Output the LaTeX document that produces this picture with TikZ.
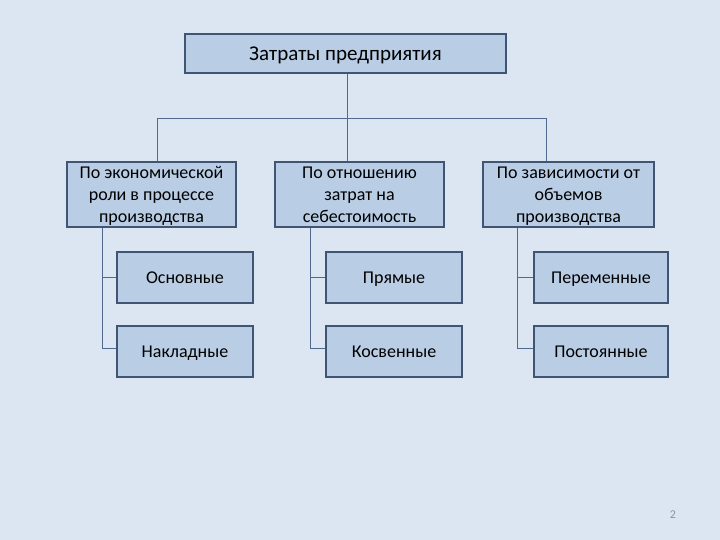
\documentclass[tikz,border=0pt]{standalone}
\usepackage{fontspec}
\setmainfont{Carlito}
\definecolor{bg}{HTML}{DCE6F2}
\definecolor{boxfill}{HTML}{B9CDE5}
\definecolor{boxdraw}{HTML}{3F5573}
\definecolor{linec}{HTML}{4F6A8C}
\definecolor{numc}{HTML}{8096B4}
\newcommand\mystrut{\rule[-0.25em]{0pt}{1.15em}}
\begin{document}
\begin{tikzpicture}[x=1pt,y=-1pt,
  box/.style={draw=boxdraw,fill=boxfill,line width=1.6pt,inner sep=0pt,align=center,font=\fontsize{18}{22}\selectfont},
  conn/.style={draw=linec,line width=0.8pt}]
\fill[bg] (0,0) rectangle (720,540);
\useasboundingbox (0,0) rectangle (720,540);
% top
\node[box,minimum width=321pt,minimum height=39pt,font=\fontsize{21}{24}\selectfont] (top) at (345.5,53.5) {\mystrut Затраты предприятия};
% level 2
\node[box,minimum width=169pt,minimum height=63pt] (a) at (151.5,194.5) {\mystrut По экономической\\\mystrut роли в процессе\\\mystrut производства};
\node[box,minimum width=169pt,minimum height=63pt] (b) at (359.5,194.5) {\mystrut По отношению\\\mystrut затрат на\\\mystrut себестоимость};
\node[box,minimum width=171pt,minimum height=63pt] (c) at (568.5,194.5) {\mystrut По зависимости от\\\mystrut объемов\\\mystrut производства};
% level 3
\node[box,minimum width=136pt,minimum height=51pt] (a1) at (185,277.5) {\mystrut Основные};
\node[box,minimum width=136pt,minimum height=51pt] (a2) at (185,351.5) {\mystrut Накладные};
\node[box,minimum width=136pt,minimum height=51pt] (b1) at (394,277.5) {\mystrut Прямые};
\node[box,minimum width=136pt,minimum height=51pt] (b2) at (394,351.5) {\mystrut Косвенные};
\node[box,minimum width=134pt,minimum height=51pt] (c1) at (601,277.5) {\mystrut Переменные};
\node[box,minimum width=134pt,minimum height=51pt] (c2) at (601,351.5) {\mystrut Постоянные};
% coordinates
\coordinate (hl) at (157,118);
\coordinate (hr) at (546,118);
\coordinate (vt) at (347,118);
% connectors top
\draw[conn] (top.south -| vt) -- (b.north -| vt);
\draw[conn] (a.north -| hl) -- (hl) -- (hr) -- (c.north -| hr);
% connectors level 3
\coordinate (ta) at (102,348);
\coordinate (tb) at (310,348);
\coordinate (tc) at (517,348);
\draw[conn] (a.south -| ta) -- (ta) -- (a2.west |- ta);
\draw[conn] (a1.west) -- (a1.west -| ta);
\draw[conn] (b.south -| tb) -- (tb) -- (b2.west |- tb);
\draw[conn] (b1.west) -- (b1.west -| tb);
\draw[conn] (c.south -| tc) -- (tc) -- (c2.west |- tc);
\draw[conn] (c1.west) -- (c1.west -| tc);
\node[text=numc,font=\fontsize{12}{14}\selectfont] (pg) at (673,515) {2};
\end{tikzpicture}
\end{document}
